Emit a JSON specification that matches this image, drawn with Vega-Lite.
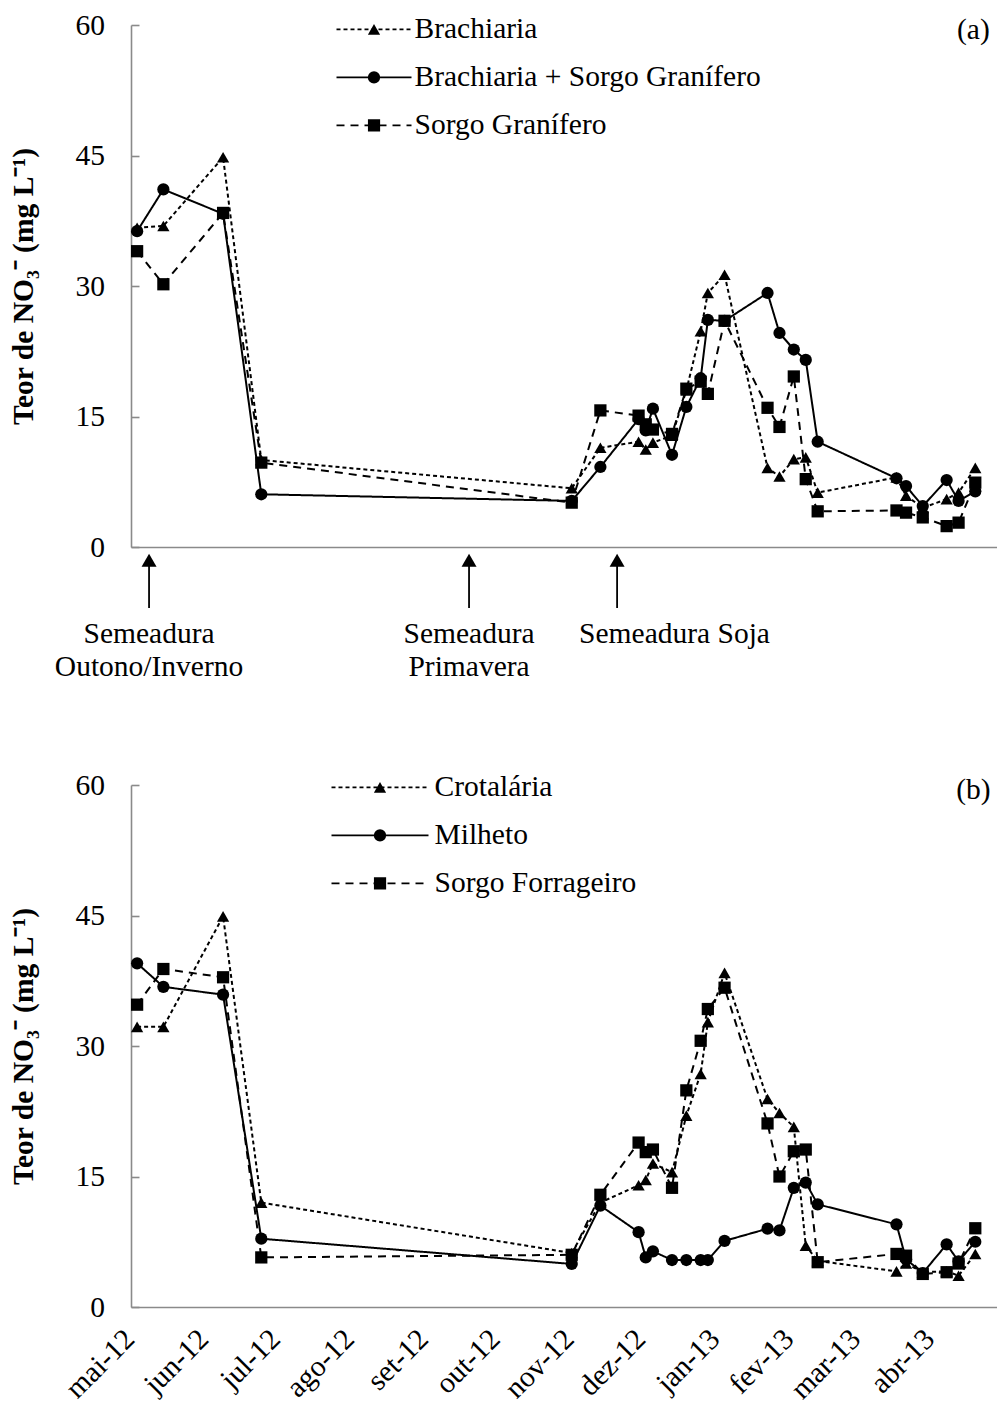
{
  "$schema": "https://vega.github.io/schema/vega-lite/v6.json",
  "padding": {"left": 7, "top": 10, "right": 0, "bottom": 0},
  "autosize": {"type": "pad"},
  "bounds": "flush",
  "spacing": 238,
  "config": {
    "view": {"stroke": null},
    "font": "Liberation Serif",
    "axis": {
      "domainColor": "#8a8a8a", "domainWidth": 1.6, "tickColor": "#8a8a8a", "tickWidth": 1.6,
      "labelFont": "Liberation Serif", "labelFontSize": 29.5, "labelColor": "black",
      "titleFont": "Liberation Serif", "titleColor": "black", "grid": false
    }
  },
  "resolve": {
    "scale": {"shape": "independent", "strokeDash": "independent"},
    "legend": {"strokeDash": "independent", "shape": "independent"}
  },
  "datasets": {
    "a": [
      {"d":"2012-04-30","s":"Brachiaria","v":36.7},{"d":"2012-05-11","s":"Brachiaria","v":36.9},{"d":"2012-06-05","s":"Brachiaria","v":44.8},{"d":"2012-06-21","s":"Brachiaria","v":10.0},{"d":"2012-10-29","s":"Brachiaria","v":6.75},{"d":"2012-11-10","s":"Brachiaria","v":11.4},{"d":"2012-11-26","s":"Brachiaria","v":12.1},{"d":"2012-11-29","s":"Brachiaria","v":11.2},{"d":"2012-12-02","s":"Brachiaria","v":12.0},{"d":"2012-12-10","s":"Brachiaria","v":12.8},{"d":"2012-12-16","s":"Brachiaria","v":18.0},{"d":"2012-12-22","s":"Brachiaria","v":24.8},{"d":"2012-12-25","s":"Brachiaria","v":29.2},{"d":"2013-01-01","s":"Brachiaria","v":31.3},{"d":"2013-01-19","s":"Brachiaria","v":9.1},{"d":"2013-01-24","s":"Brachiaria","v":8.1},{"d":"2013-01-30","s":"Brachiaria","v":10.1},{"d":"2013-02-04","s":"Brachiaria","v":10.3},{"d":"2013-02-09","s":"Brachiaria","v":6.25},{"d":"2013-03-14","s":"Brachiaria","v":8.0},{"d":"2013-03-18","s":"Brachiaria","v":5.9},{"d":"2013-03-25","s":"Brachiaria","v":4.5},{"d":"2013-04-04","s":"Brachiaria","v":5.5},{"d":"2013-04-09","s":"Brachiaria","v":6.25},{"d":"2013-04-16","s":"Brachiaria","v":9.1},
      {"d":"2012-04-30","s":"Brachiaria + Sorgo Granífero","v":36.3},{"d":"2012-05-11","s":"Brachiaria + Sorgo Granífero","v":41.1},{"d":"2012-06-05","s":"Brachiaria + Sorgo Granífero","v":38.3},{"d":"2012-06-21","s":"Brachiaria + Sorgo Granífero","v":6.06},{"d":"2012-10-29","s":"Brachiaria + Sorgo Granífero","v":5.3},{"d":"2012-11-10","s":"Brachiaria + Sorgo Granífero","v":9.2},{"d":"2012-11-26","s":"Brachiaria + Sorgo Granífero","v":14.7},{"d":"2012-11-29","s":"Brachiaria + Sorgo Granífero","v":13.4},{"d":"2012-12-02","s":"Brachiaria + Sorgo Granífero","v":15.9},{"d":"2012-12-10","s":"Brachiaria + Sorgo Granífero","v":10.6},{"d":"2012-12-16","s":"Brachiaria + Sorgo Granífero","v":16.1},{"d":"2012-12-22","s":"Brachiaria + Sorgo Granífero","v":19.4},{"d":"2012-12-25","s":"Brachiaria + Sorgo Granífero","v":26.1},{"d":"2013-01-01","s":"Brachiaria + Sorgo Granífero","v":26.0},{"d":"2013-01-19","s":"Brachiaria + Sorgo Granífero","v":29.2},{"d":"2013-01-24","s":"Brachiaria + Sorgo Granífero","v":24.6},{"d":"2013-01-30","s":"Brachiaria + Sorgo Granífero","v":22.7},{"d":"2013-02-04","s":"Brachiaria + Sorgo Granífero","v":21.5},{"d":"2013-02-09","s":"Brachiaria + Sorgo Granífero","v":12.1},{"d":"2013-03-14","s":"Brachiaria + Sorgo Granífero","v":7.9},{"d":"2013-03-18","s":"Brachiaria + Sorgo Granífero","v":7.0},{"d":"2013-03-25","s":"Brachiaria + Sorgo Granífero","v":4.7},{"d":"2013-04-04","s":"Brachiaria + Sorgo Granífero","v":7.7},{"d":"2013-04-09","s":"Brachiaria + Sorgo Granífero","v":5.3},{"d":"2013-04-16","s":"Brachiaria + Sorgo Granífero","v":6.4},
      {"d":"2012-04-30","s":"Sorgo Granífero","v":34.0},{"d":"2012-05-11","s":"Sorgo Granífero","v":30.2},{"d":"2012-06-05","s":"Sorgo Granífero","v":38.4},{"d":"2012-06-21","s":"Sorgo Granífero","v":9.7},{"d":"2012-10-29","s":"Sorgo Granífero","v":5.1},{"d":"2012-11-10","s":"Sorgo Granífero","v":15.7},{"d":"2012-11-26","s":"Sorgo Granífero","v":15.1},{"d":"2012-11-29","s":"Sorgo Granífero","v":14.1},{"d":"2012-12-02","s":"Sorgo Granífero","v":13.5},{"d":"2012-12-10","s":"Sorgo Granífero","v":13.0},{"d":"2012-12-16","s":"Sorgo Granífero","v":18.2},{"d":"2012-12-22","s":"Sorgo Granífero","v":19.0},{"d":"2012-12-25","s":"Sorgo Granífero","v":17.6},{"d":"2013-01-01","s":"Sorgo Granífero","v":26.0},{"d":"2013-01-19","s":"Sorgo Granífero","v":16.0},{"d":"2013-01-24","s":"Sorgo Granífero","v":13.8},{"d":"2013-01-30","s":"Sorgo Granífero","v":19.6},{"d":"2013-02-04","s":"Sorgo Granífero","v":7.8},{"d":"2013-02-09","s":"Sorgo Granífero","v":4.1},{"d":"2013-03-14","s":"Sorgo Granífero","v":4.2},{"d":"2013-03-18","s":"Sorgo Granífero","v":3.95},{"d":"2013-03-25","s":"Sorgo Granífero","v":3.4},{"d":"2013-04-04","s":"Sorgo Granífero","v":2.4},{"d":"2013-04-09","s":"Sorgo Granífero","v":2.8},{"d":"2013-04-16","s":"Sorgo Granífero","v":7.4}
    ],
    "b": [
      {"d":"2012-04-30","s":"Crotalária","v":32.2},{"d":"2012-05-11","s":"Crotalária","v":32.2},{"d":"2012-06-05","s":"Crotalária","v":44.9},{"d":"2012-06-21","s":"Crotalária","v":12.0},{"d":"2012-10-29","s":"Crotalária","v":6.2},{"d":"2012-11-10","s":"Crotalária","v":12.0},{"d":"2012-11-26","s":"Crotalária","v":14.0},{"d":"2012-11-29","s":"Crotalária","v":14.6},{"d":"2012-12-02","s":"Crotalária","v":16.5},{"d":"2012-12-10","s":"Crotalária","v":15.5},{"d":"2012-12-16","s":"Crotalária","v":22.0},{"d":"2012-12-22","s":"Crotalária","v":26.8},{"d":"2012-12-25","s":"Crotalária","v":32.75},{"d":"2013-01-01","s":"Crotalária","v":38.4},{"d":"2013-01-19","s":"Crotalária","v":23.9},{"d":"2013-01-24","s":"Crotalária","v":22.3},{"d":"2013-01-30","s":"Crotalária","v":20.7},{"d":"2013-02-04","s":"Crotalária","v":7.05},{"d":"2013-02-09","s":"Crotalária","v":5.3},{"d":"2013-03-14","s":"Crotalária","v":4.1},{"d":"2013-03-18","s":"Crotalária","v":5.0},{"d":"2013-03-25","s":"Crotalária","v":4.0},{"d":"2013-04-04","s":"Crotalária","v":4.1},{"d":"2013-04-09","s":"Crotalária","v":3.6},{"d":"2013-04-16","s":"Crotalária","v":6.1},
      {"d":"2012-04-30","s":"Milheto","v":39.5},{"d":"2012-05-11","s":"Milheto","v":36.8},{"d":"2012-06-05","s":"Milheto","v":35.9},{"d":"2012-06-21","s":"Milheto","v":7.85},{"d":"2012-10-29","s":"Milheto","v":4.95},{"d":"2012-11-10","s":"Milheto","v":11.65},{"d":"2012-11-26","s":"Milheto","v":8.6},{"d":"2012-11-29","s":"Milheto","v":5.7},{"d":"2012-12-02","s":"Milheto","v":6.4},{"d":"2012-12-10","s":"Milheto","v":5.4},{"d":"2012-12-16","s":"Milheto","v":5.4},{"d":"2012-12-22","s":"Milheto","v":5.4},{"d":"2012-12-25","s":"Milheto","v":5.4},{"d":"2013-01-01","s":"Milheto","v":7.6},{"d":"2013-01-19","s":"Milheto","v":9.0},{"d":"2013-01-24","s":"Milheto","v":8.8},{"d":"2013-01-30","s":"Milheto","v":13.7},{"d":"2013-02-04","s":"Milheto","v":14.3},{"d":"2013-02-09","s":"Milheto","v":11.8},{"d":"2013-03-14","s":"Milheto","v":9.5},{"d":"2013-03-18","s":"Milheto","v":5.5},{"d":"2013-03-25","s":"Milheto","v":3.9},{"d":"2013-04-04","s":"Milheto","v":7.2},{"d":"2013-04-09","s":"Milheto","v":5.25},{"d":"2013-04-16","s":"Milheto","v":7.5},
      {"d":"2012-04-30","s":"Sorgo Forrageiro","v":34.75},{"d":"2012-05-11","s":"Sorgo Forrageiro","v":38.85},{"d":"2012-06-05","s":"Sorgo Forrageiro","v":37.9},{"d":"2012-06-21","s":"Sorgo Forrageiro","v":5.7},{"d":"2012-10-29","s":"Sorgo Forrageiro","v":6.0},{"d":"2012-11-10","s":"Sorgo Forrageiro","v":12.9},{"d":"2012-11-26","s":"Sorgo Forrageiro","v":18.9},{"d":"2012-11-29","s":"Sorgo Forrageiro","v":17.8},{"d":"2012-12-02","s":"Sorgo Forrageiro","v":18.1},{"d":"2012-12-10","s":"Sorgo Forrageiro","v":13.7},{"d":"2012-12-16","s":"Sorgo Forrageiro","v":24.9},{"d":"2012-12-22","s":"Sorgo Forrageiro","v":30.6},{"d":"2012-12-25","s":"Sorgo Forrageiro","v":34.25},{"d":"2013-01-01","s":"Sorgo Forrageiro","v":36.7},{"d":"2013-01-19","s":"Sorgo Forrageiro","v":21.1},{"d":"2013-01-24","s":"Sorgo Forrageiro","v":15.0},{"d":"2013-01-30","s":"Sorgo Forrageiro","v":17.9},{"d":"2013-02-04","s":"Sorgo Forrageiro","v":18.1},{"d":"2013-02-09","s":"Sorgo Forrageiro","v":5.15},{"d":"2013-03-14","s":"Sorgo Forrageiro","v":6.1},{"d":"2013-03-18","s":"Sorgo Forrageiro","v":5.9},{"d":"2013-03-25","s":"Sorgo Forrageiro","v":3.8},{"d":"2013-04-04","s":"Sorgo Forrageiro","v":4.0},{"d":"2013-04-09","s":"Sorgo Forrageiro","v":5.0},{"d":"2013-04-16","s":"Sorgo Forrageiro","v":9.05}
    ],
    "sow": [
      {"d":"2012-05-05","label":["Semeadura","Outono/Inverno"]},
      {"d":"2012-09-16","label":["Semeadura","Primavera"]},
      {"d":"2012-11-17","label":"Semeadura Soja"}
    ]
  },
  "vconcat": [
    {
      "width": 866, "height": 522,
      "layer": [
        {
          "data": {"name": "a"},
          "mark": {"type": "line", "color": "black", "strokeWidth": 2},
          "encoding": {
            "x": {"field": "d", "type": "temporal",
              "scale": {"type": "utc", "domain": [{"year":2012,"month":4,"date":27,"hours":10,"minutes":34,"utc":true},{"year":2013,"month":4,"date":25,"hours":2,"minutes":10,"utc":true}]},
              "axis": {"title": null, "labels": false, "ticks": false, "domain": true}},
            "y": {"field": "v", "type": "quantitative",
              "scale": {"domain": [0, 60], "nice": false, "zero": false},
              "axis": {"values": [0, 15, 30, 45, 60], "title": "Teor de NO₃⁻ (mg L⁻¹)", "titleFontSize": 29.5, "titleFontWeight": "bold", "titleX": -108, "titleBaseline": "middle", "tickSize": -8, "labelPadding": 34.5}},
            "strokeDash": {"field": "s", "type": "nominal",
              "scale": {"domain": ["Brachiaria", "Brachiaria + Sorgo Granífero", "Sorgo Granífero"], "range": [[4, 3], [1, 0], [8, 6]]},
              "legend": {"orient": "none", "legendX": 204.5, "legendY": -10.6, "title": null, "padding": 0,
                "symbolType": "stroke", "symbolSize": 5625, "symbolStrokeWidth": 1.8, "symbolStrokeColor": "black",
                "clipHeight": 30, "rowPadding": 18, "labelOffset": 2, "symbolOffset": 0, "labelLimit": 0,
                "labelFont": "Liberation Serif", "labelFontSize": 29.5, "labelColor": "black"}}
          }
        },
        {
          "data": {"name": "a"},
          "mark": {"type": "point", "filled": true, "color": "black", "size": 150, "opacity": 1},
          "encoding": {
            "x": {"field": "d", "type": "temporal", "scale": {"type": "utc"}},
            "y": {"field": "v", "type": "quantitative"},
            "shape": {"field": "s", "type": "nominal",
              "scale": {"domain": ["Sorgo Granífero", "Brachiaria", "Brachiaria + Sorgo Granífero"], "range": ["square", "triangle-up", "circle"]},
              "legend": {"orient": "none", "legendX": 236.5, "legendY": -10.6, "title": null, "padding": 0,
                "values": ["Brachiaria", "Brachiaria + Sorgo Granífero", "Sorgo Granífero"],
                "symbolSize": 150, "symbolStrokeWidth": 0, "symbolFillColor": "black", "symbolStrokeColor": "black",
                "clipHeight": 30, "rowPadding": 18, "symbolOffset": 0, "labelFontSize": 1, "labelOpacity": 0}}
          }
        },
        {
          "data": {"name": "sow"},
          "mark": {"type": "rule", "color": "black", "strokeWidth": 1.8},
          "encoding": {
            "x": {"field": "d", "type": "temporal", "scale": {"type": "utc"}},
            "y": {"datum": -1.6}, "y2": {"datum": -7.0}
          }
        },
        {
          "data": {"name": "sow"},
          "mark": {"type": "point", "shape": "triangle-up", "filled": true, "color": "black", "size": 225, "opacity": 1},
          "encoding": {
            "x": {"field": "d", "type": "temporal", "scale": {"type": "utc"}},
            "y": {"datum": -1.52}
          }
        },
        {
          "data": {"name": "sow"},
          "transform": [{"filter": "isArray(datum.label)"}],
          "mark": {"type": "text", "font": "Liberation Serif", "fontSize": 29.5, "align": "center", "baseline": "alphabetic", "lineHeight": 33, "color": "black"},
          "encoding": {
            "x": {"field": "d", "type": "temporal", "scale": {"type": "utc"}},
            "y": {"datum": -11.0},
            "text": {"field": "label"}
          }
        },
        {
          "data": {"name": "sow"},
          "transform": [{"filter": "!isArray(datum.label)"}],
          "mark": {"type": "text", "font": "Liberation Serif", "fontSize": 29.5, "align": "left", "baseline": "alphabetic", "dx": -38, "color": "black"},
          "encoding": {
            "x": {"field": "d", "type": "temporal", "scale": {"type": "utc"}},
            "y": {"datum": -11.0},
            "text": {"field": "label"}
          }
        },
        {
          "data": {"values": [{"t": "(a)"}]},
          "mark": {"type": "text", "font": "Liberation Serif", "fontSize": 29.5, "align": "center", "baseline": "middle", "color": "black"},
          "encoding": {
            "x": {"datum": {"year":2013,"month":4,"date":15,"hours":5,"utc":true}, "type": "temporal", "scale": {"type": "utc"}},
            "y": {"datum": 59.4},
            "text": {"field": "t"}
          }
        }
      ]
    },
    {
      "width": 866, "height": 522,
      "layer": [
        {
          "data": {"name": "b"},
          "mark": {"type": "line", "color": "black", "strokeWidth": 2},
          "encoding": {
            "x": {"field": "d", "type": "temporal",
              "scale": {"type": "utc", "domain": [{"year":2012,"month":4,"date":27,"hours":10,"minutes":34,"utc":true},{"year":2013,"month":4,"date":25,"hours":2,"minutes":10,"utc":true}]},
              "axis": {"title": null, "ticks": false, "labelAngle": -45, "labelAlign": "right", "labelBaseline": "top", "labelPadding": 17, "labelOffset": -20, "labelFlush": false, "labelOverlap": false, "labelBound": false,
                "tickCount": {"interval": "month", "step": 1},
                "labelExpr": "['jan','fev','mar','abr','mai','jun','jul','ago','set','out','nov','dez'][utcmonth(datum.value)] + '-' + utcFormat(datum.value, '%y')"}},
            "y": {"field": "v", "type": "quantitative",
              "scale": {"domain": [0, 60], "nice": false, "zero": false},
              "axis": {"values": [0, 15, 30, 45, 60], "title": "Teor de NO₃⁻ (mg L⁻¹)", "titleFontSize": 29.5, "titleFontWeight": "bold", "titleX": -108, "titleBaseline": "middle", "tickSize": -8, "labelPadding": 34.5}},
            "strokeDash": {"field": "s", "type": "nominal",
              "scale": {"domain": ["Crotalária", "Milheto", "Sorgo Forrageiro"], "range": [[4, 3], [1, 0], [8, 6]]},
              "legend": {"orient": "none", "legendX": 199.5, "legendY": -12.6, "title": null, "padding": 0,
                "symbolType": "stroke", "symbolSize": 9409, "symbolStrokeWidth": 1.8, "symbolStrokeColor": "black",
                "clipHeight": 30, "rowPadding": 18, "labelOffset": 5, "symbolOffset": 0, "labelLimit": 0,
                "labelFont": "Liberation Serif", "labelFontSize": 29.5, "labelColor": "black"}}
          }
        },
        {
          "data": {"name": "b"},
          "mark": {"type": "point", "filled": true, "color": "black", "size": 150, "opacity": 1},
          "encoding": {
            "x": {"field": "d", "type": "temporal", "scale": {"type": "utc"}},
            "y": {"field": "v", "type": "quantitative"},
            "shape": {"field": "s", "type": "nominal",
              "scale": {"domain": ["Sorgo Forrageiro", "Crotalária", "Milheto"], "range": ["square", "triangle-up", "circle"]},
              "legend": {"orient": "none", "legendX": 242.5, "legendY": -12.6, "title": null, "padding": 0,
                "values": ["Crotalária", "Milheto", "Sorgo Forrageiro"],
                "symbolSize": 150, "symbolStrokeWidth": 0, "symbolFillColor": "black", "symbolStrokeColor": "black",
                "clipHeight": 30, "rowPadding": 18, "symbolOffset": 0, "labelFontSize": 1, "labelOpacity": 0}}
          }
        },
        {
          "data": {"values": [{"t": "(b)"}]},
          "mark": {"type": "text", "font": "Liberation Serif", "fontSize": 29.5, "align": "center", "baseline": "middle", "color": "black"},
          "encoding": {
            "x": {"datum": {"year":2013,"month":4,"date":15,"hours":5,"utc":true}, "type": "temporal", "scale": {"type": "utc"}},
            "y": {"datum": 59.4},
            "text": {"field": "t"}
          }
        }
      ]
    }
  ]
}
